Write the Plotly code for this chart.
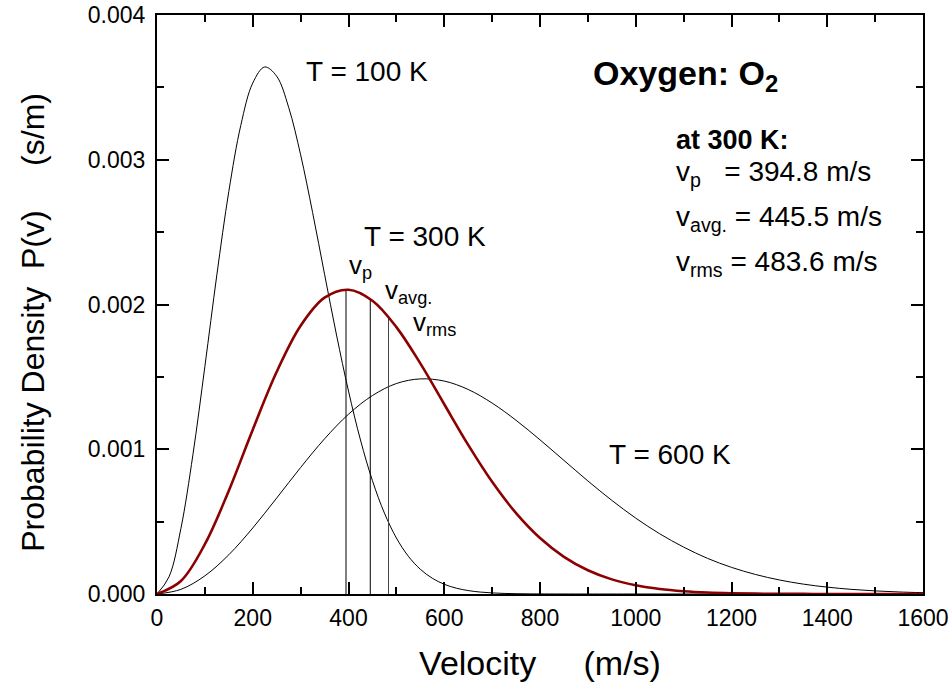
import plotly.graph_objects as go

# Velocities (m/s)
v_fine = [0, 25, 50, 75, 100, 125, 150, 175, 200, 225, 250, 275, 300, 325, 350, 375,
          400, 425, 450, 475, 500, 525, 550, 575, 600, 625, 650, 675, 700, 725, 750,
          775, 800, 900, 1000, 1200, 1400, 1600]
p_100K = [0, 0.000118, 0.000454, 0.000962, 0.001572, 0.002204, 0.002781, 0.003237,
          0.003530, 0.003641, 0.003577, 0.003362, 0.003034, 0.002636, 0.002209, 0.001789,
          0.001402, 0.001064, 0.000783, 0.000559, 0.000387, 0.000261, 0.000171, 0.000109,
          0.0000672, 0.0000404, 0.0000237, 0.0000135, 0.0000075, 0.0000040, 0.0000021,
          0.0000011, 0.00000055, 0, 0, 0, 0, 0]

v_step = [0, 50, 100, 150, 200, 250, 300, 350, 400, 450, 500, 550, 600, 650, 700, 750,
          800, 850, 900, 950, 1000, 1050, 1100, 1150, 1200, 1250, 1300, 1350, 1400, 1450,
          1500, 1550, 1600]
p_300K = [0, 0.0000902, 0.000344, 0.000714, 0.001135, 0.001535, 0.001853, 0.002047,
          0.002102, 0.002026, 0.001844, 0.001593, 0.001311, 0.001030, 0.000775, 0.000559,
          0.000387, 0.000257, 0.000164, 0.000101, 0.0000600, 0.0000342, 0.0000189,
          0.0000100, 0.0000051, 0.0000025, 0.0000012, 0.00000056, 0.00000025, 0.0000001,
          0.00000004, 0.00000001, 0]
p_600K = [0, 0.0000322, 0.0001256, 0.000271, 0.000456, 0.000663, 0.000874, 0.001072,
          0.001242, 0.001371, 0.001454, 0.001486, 0.001471, 0.001413, 0.001319, 0.001200,
          0.001065, 0.000923, 0.000781, 0.000647, 0.000524, 0.000416, 0.000324, 0.000246,
          0.000184, 0.000135, 0.0000969, 0.0000683, 0.0000473, 0.0000321, 0.0000214,
          0.0000140, 0.0000090]

# Characteristic speeds at 300 K and curve heights there
speed_names = ["v_p", "v_avg", "v_rms"]
speed_values = [394.8, 445.5, 483.6]
speed_heights = [0.002103, 0.002037, 0.001913]

x_ticks = [0, 200, 400, 600, 800, 1000, 1200, 1400, 1600]
y_ticks = [0, 0.001, 0.002, 0.003, 0.004]
y_tick_labels = ["0.000", "0.001", "0.002", "0.003", "0.004"]

FONT = "Liberation Sans, Arial, sans-serif"

fig = go.Figure()

fig.add_trace(go.Scatter(x=v_fine, y=p_100K, mode="lines", line=dict(color="black", width=1, shape="spline"),
                         showlegend=False, hoverinfo="skip"))
fig.add_trace(go.Scatter(x=v_step, y=p_600K, mode="lines", line=dict(color="black", width=1, shape="spline"),
                         showlegend=False, hoverinfo="skip"))
for name, sv, sh, col in zip(speed_names, speed_values, speed_heights, ["black", "black", "#444444"]):
    fig.add_trace(go.Scatter(x=[sv, sv], y=[0, sh], mode="lines", line=dict(color=col, width=1),
                             showlegend=False, hoverinfo="skip"))
fig.add_trace(go.Scatter(x=v_step, y=p_300K, mode="lines", line=dict(color="#8b0000", width=2.6, shape="spline"),
                         showlegend=False, hoverinfo="skip"))

def ann(x, y, text, size, bold=False, xanchor="left"):
    fig.add_annotation(x=x, y=y, xref="x", yref="y", text=f"<b>{text}</b>" if bold else text,
                       showarrow=False, xanchor=xanchor, yanchor="middle",
                       font=dict(family=FONT, size=size, color="black"))

ann(307, 0.003608, "T = 100 K", 28)
ann(428, 0.002472, "T = 300 K", 28)
ann(940, 0.000967, "T = 600 K", 28)
ann(906, 0.00358, "Oxygen: O<sub>2</sub>", 34, bold=True)
ann(397, 0.00226, "v<sub>p</sub>", 26)
ann(472, 0.00209, "v<sub>avg.</sub>", 26)
ann(531, 0.00187, "v<sub>rms</sub>", 26)
ann(1080, 0.003135, "at 300 K:", 27, bold=True)
ann(1080, 0.002906, "v<sub>p</sub>   = 394.8 m/s", 28)
ann(1080, 0.002596, "v<sub>avg.</sub> = 445.5 m/s", 28)
ann(1080, 0.002286, "v<sub>rms</sub> = 483.6 m/s", 28)

# y-axis title as rotated text
fig.add_annotation(x=-0.162, y=0.47, xref="paper", yref="paper", textangle=-90,
                   text="Probability Density  P(v)     (s/m)", showarrow=False,
                   xanchor="center", yanchor="middle",
                   font=dict(family=FONT, size=32, color="black"))

axis_common = dict(showgrid=False, zeroline=False, showline=True, linecolor="black", linewidth=2,
                   mirror="allticks", ticks="inside", ticklen=12, tickwidth=2, tickcolor="black",
                   automargin=False,
                   tickfont=dict(family=FONT, size=23, color="black"))

fig.update_xaxes(range=[0, 1600], tickvals=x_ticks, ticklabelstandoff=2,
                 minor=dict(dtick=100, ticks="inside", ticklen=7, tickwidth=2, tickcolor="black", showgrid=False),
                 title=dict(text="Velocity     (m/s)", font=dict(family=FONT, size=34, color="black"), standoff=22),
                 **axis_common)
fig.update_yaxes(range=[0, 0.004], tickvals=y_ticks, ticktext=y_tick_labels, ticklabelstandoff=5,
                 minor=dict(dtick=0.0005, ticks="inside", ticklen=7, tickwidth=2, tickcolor="black", showgrid=False),
                 **axis_common)

fig.update_layout(width=951, height=692, margin=dict(l=157, r=28, t=15, b=98),
                  plot_bgcolor="white", paper_bgcolor="white", showlegend=False)

fig.write_html("out.html", config={"displayModeBar": False},
               post_script="document.body.style.margin='0px';")
